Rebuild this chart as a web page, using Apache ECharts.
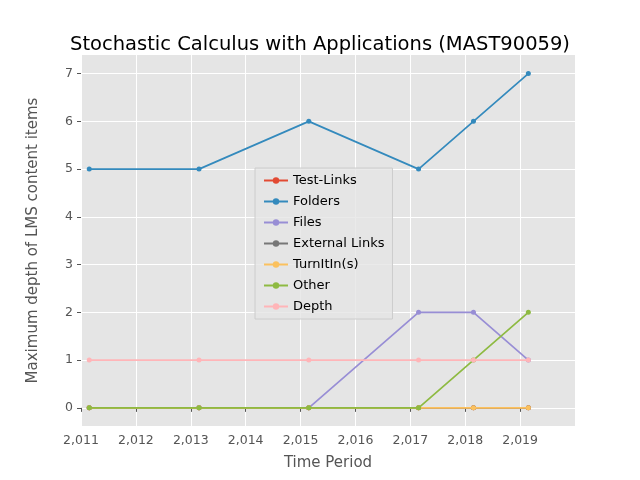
<!DOCTYPE html>
<html>
<head>
<meta charset="utf-8">
<script src="https://cdn.jsdelivr.net/npm/echarts@6/dist/echarts.min.js"></script>
<style>body{margin:0}#chart{width:640px;height:480px}</style>
</head>
<body>
<div id="chart"></div>
<script>
var dates = [2011.15, 2013.15, 2015.15, 2017.15, 2018.15, 2019.15];
var testLinks = [0, 0, 0, 0, 0, 0];
var folders = [5, 5, 6, 5, 6, 7];
var files = [0, 0, 0, 2, 2, 1];
var externalLinks = [0, 0, 0, 0, 0, 0];
var turnitin = [0, 0, 0, 0, 0, 0];
var other = [0, 0, 0, 0, 1, 2];
var depth = [1, 1, 1, 1, 1, 1];
var yTicks = [0, 1, 2, 3, 4, 5, 6, 7];
var xTicks = [2011, 2012, 2013, 2014, 2015, 2016, 2017, 2018, 2019];

var names = ["Test-Links", "Folders", "Files", "External Links", "TurnItIn(s)", "Other", "Depth"];
var values = [testLinks, folders, files, externalLinks, turnitin, other, depth];
var colors = ["#E24A33", "#348ABD", "#988ED5", "#777777", "#FBC15E", "#8EBA42", "#FFB5B8"];

var chart = echarts.init(document.getElementById("chart"));
var font = "DejaVu Sans";

var series = names.map(function (n, i) {
  return {
    name: n,
    type: "line",
    data: dates.map(function (d, j) { return [d, values[i][j]]; }),
    symbol: "circle",
    symbolSize: 5,
    lineStyle: { width: 1.7, color: colors[i] },
    itemStyle: { color: colors[i] },
    z: 2 + i
  };
});

var option = {
  animation: false,
  title: {
    text: "Stochastic Calculus with Applications (MAST90059)",
    left: "center", top: 30,
    textStyle: { fontFamily: font, fontSize: 19.5, fontWeight: "normal", color: "#000" }
  },
  legend: {
    orient: "vertical", left: 255, top: 168,
    data: names,
    backgroundColor: "rgba(229,229,229,0.8)",
    borderColor: "#cccccc", borderWidth: 1,
    padding: [6, 8], itemGap: 8, itemWidth: 24, itemHeight: 8,
    textStyle: { fontFamily: font, fontSize: 13, color: "#000" }
  },
  grid: { left: 81, right: 65, top: 55, bottom: 54, backgroundColor: "#E5E5E5", show: true, borderWidth: 0 },
  xAxis: {
    type: "value", min: 2011, max: 2020, interval: 1,
    name: "Time Period", nameLocation: "middle", nameGap: 30,
    nameTextStyle: { fontFamily: font, fontSize: 15, color: "#555" },
    axisLine: { show: false },
    axisTick: { show: true, length: 4, customValues: xTicks, lineStyle: { color: "#555" } },
    axisLabel: { fontFamily: font, fontSize: 12.5, color: "#555", customValues: xTicks },
    splitLine: { show: true, lineStyle: { color: "#fff", width: 1 } }
  },
  yAxis: {
    type: "value", min: -0.38, max: 7.39,
    name: "Maximum depth of LMS content items", nameLocation: "middle", nameGap: 40,
    nameTextStyle: { fontFamily: font, fontSize: 15, color: "#555" },
    axisLine: { show: false },
    axisTick: { show: true, length: 4, customValues: yTicks, lineStyle: { color: "#555" } },
    axisLabel: { fontFamily: font, fontSize: 12.5, color: "#555", customValues: yTicks },
    splitLine: { show: true, lineStyle: { color: "#fff", width: 1 } }
  },
  series: series
};
chart.setOption(option);
</script>
</body>
</html>
